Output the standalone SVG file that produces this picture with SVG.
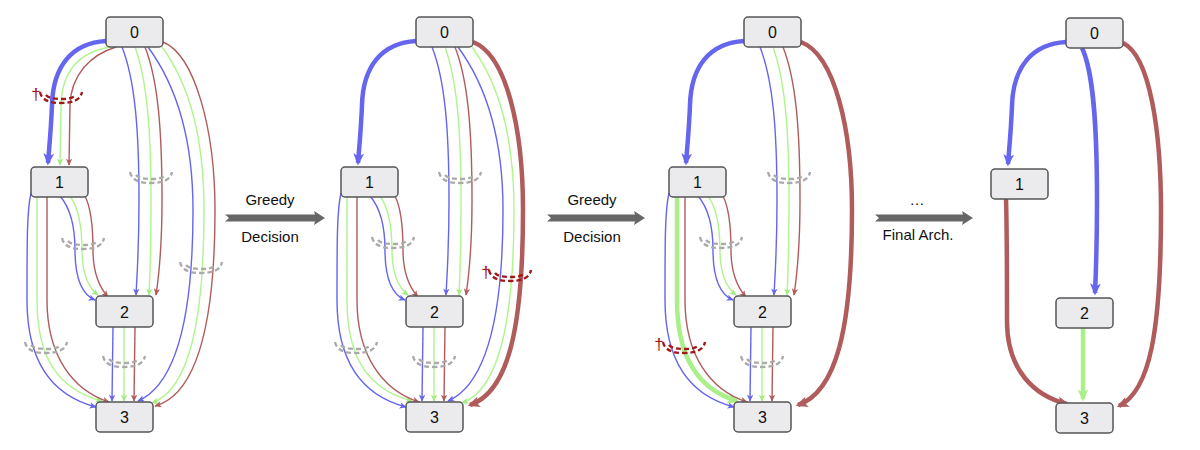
<svg xmlns="http://www.w3.org/2000/svg" xmlns:xlink="http://www.w3.org/1999/xlink" width="1200" height="450" viewBox="0 0 1200 450">
<style>
.node rect{fill:#ebebed;stroke:#555;stroke-width:1.5}
.node text{font-family:"Liberation Sans",Arial,sans-serif;font-size:16px;fill:#111;text-anchor:middle}
.e{fill:none;stroke-width:1.4}
.tk{stroke-width:4.5}
.b{stroke:#6565ee}
.g{stroke:#b0f48e}
.r{stroke:#b05c5c}
.gT{stroke:#aaf088}
.cut{fill:none;stroke:#aaaaaa;stroke-width:2.3;stroke-dasharray:5 3}
.cutR{fill:none;stroke:#a01818;stroke-width:2.3;stroke-dasharray:5 3}
.dag{font-family:"Liberation Sans",Arial,sans-serif;font-size:17px;fill:#a01818;text-anchor:middle}
.lbl{font-family:"Liberation Sans",Arial,sans-serif;font-size:15px;fill:#111;text-anchor:middle}
.big{fill:#666}
</style>
<defs>
<marker id="mb" viewBox="0 0 10 10" refX="9" refY="5" markerWidth="8" markerHeight="7" markerUnits="userSpaceOnUse" orient="auto"><path d="M0,0.5 L10,5 L0,9.5 L2.5,5 Z" fill="#6565ee"/></marker>
<marker id="mg" viewBox="0 0 10 10" refX="9" refY="5" markerWidth="8" markerHeight="7" markerUnits="userSpaceOnUse" orient="auto"><path d="M0,0.5 L10,5 L0,9.5 L2.5,5 Z" fill="#a0ec7c"/></marker>
<marker id="mr" viewBox="0 0 10 10" refX="9" refY="5" markerWidth="8" markerHeight="7" markerUnits="userSpaceOnUse" orient="auto"><path d="M0,0.5 L10,5 L0,9.5 L2.5,5 Z" fill="#b05c5c"/></marker>
<marker id="MB" viewBox="0 0 10 10" refX="8" refY="5" markerWidth="13" markerHeight="12" markerUnits="userSpaceOnUse" orient="auto"><path d="M0,0.5 L10,5 L0,9.5 L2.5,5 Z" fill="#6565ee"/></marker>
<marker id="MG" viewBox="0 0 10 10" refX="8" refY="5" markerWidth="13" markerHeight="12" markerUnits="userSpaceOnUse" orient="auto"><path d="M0,0.5 L10,5 L0,9.5 L2.5,5 Z" fill="#aaf088"/></marker>
<marker id="MR" viewBox="0 0 10 10" refX="8" refY="5" markerWidth="13" markerHeight="12" markerUnits="userSpaceOnUse" orient="auto"><path d="M0,0.5 L10,5 L0,9.5 L2.5,5 Z" fill="#b05c5c"/></marker>
<g id="cutshape">
<path d="M-21,-6 Q-19,5 0,5 Q19,5 21,-6"/>
<path d="M-15,-3 Q-12,1 0,1 Q12,1 15,-3"/>
</g>
</defs>
<rect width="1200" height="450" fill="#fff"/>

<g id="transitions">
<polygon class="big" points="225,214.5 315,214.5 314,211 325,218 314,225 315,221.5 225,221.5 229,218"/>
<text class="lbl" x="270" y="205">Greedy</text>
<text class="lbl" x="270" y="242">Decision</text>
<polygon class="big" points="547,214.5 635,214.5 634,211 645,218 634,225 635,221.5 547,221.5 551,218"/>
<text class="lbl" x="592" y="205">Greedy</text>
<text class="lbl" x="592" y="242">Decision</text>
<polygon class="big" points="875,214.5 963,214.5 962,211 973,218 962,225 963,221.5 875,221.5 879,218"/>
<text class="lbl" x="917" y="205">…</text>
<text class="lbl" x="918" y="240">Final Arch.</text>
</g>

<g id="panel1">
<g id="p1-connectors">
<path class="e b" d="M122,47 C135,80 139,130 139,200 C139,250 137,275 136,295" marker-end="url(#mb)"/>
<path class="e g" d="M135,47 C147,80 151,130 151,200 C151,250 150,275 149,295" marker-end="url(#mg)"/>
<path class="e r" d="M145,47 C158,80 162,130 162,200 C162,250 159,275 156,295" marker-end="url(#mr)"/>
<path class="e b" d="M148,47 C176,85 193,140 193,210 C193,320 175,385 138,401" marker-end="url(#mb)"/>
<path class="e g" d="M162,47 C190,85 204,140 204,210 C204,325 188,390 152,403" marker-end="url(#mg)"/>
<path class="e r" d="M163,42 C195,55 215,130 215,210 C215,330 195,395 155,406" marker-end="url(#mr)"/>
<path class="e g" d="M110,47 C80,52 62,70 61,105 L60,165" marker-end="url(#mg)"/>
<path class="e r" d="M116,47 C90,55 71,75 70,105 L69,165" marker-end="url(#mr)"/>
<path class="e b tk" d="M106,41 C72,43 53,66 52,105 C51,130 49,150 48,163" marker-end="url(#MB)"/>
<path class="e b" d="M60,196 C72,210 75,230 75,250 C75,280 83,295 95,300" marker-end="url(#mb)"/>
<path class="e g" d="M70,196 C80,210 82,230 82,250 C82,275 89,288 98,295" marker-end="url(#mg)"/>
<path class="e r" d="M85,196 C92,210 93,230 93,250 C93,275 100,288 108,297" marker-end="url(#mr)"/>
<path class="e b" d="M31,193 C27,210 27,240 27,300 C27,360 50,395 96,407" marker-end="url(#mb)"/>
<path class="e g" d="M37,196 L37,300 C37,360 60,390 102,401" marker-end="url(#mg)"/>
<path class="e r" d="M47,196 L47,300 C47,355 72,390 109,402" marker-end="url(#mr)"/>
<path class="e b" d="M113,327 L112,401" marker-end="url(#mb)"/>
<path class="e g" d="M124,327 L124,401" marker-end="url(#mg)"/>
<path class="e r" d="M135,327 L134,401" marker-end="url(#mr)"/>
</g>
<g id="p1-cuts">
<use xlink:href="#cutshape" class="cutR" x="61" y="98"/>
<text class="dag" x="36" y="100">†</text>
<use xlink:href="#cutshape" class="cut" x="151" y="178"/>
<use xlink:href="#cutshape" class="cut" x="83" y="244"/>
<use xlink:href="#cutshape" class="cut" x="201" y="268"/>
<use xlink:href="#cutshape" class="cut" x="46" y="348"/>
<use xlink:href="#cutshape" class="cut" x="124" y="362"/>
</g>
<g id="p1-n0" class="node"><rect x="106" y="17" width="57" height="30" rx="4"/><text x="134.5" y="38">0</text></g>
<g id="p1-n1" class="node"><rect x="31" y="167" width="57" height="30" rx="4"/><text x="59.5" y="188">1</text></g>
<g id="p1-n2" class="node"><rect x="96" y="296" width="57" height="31" rx="4"/><text x="124.5" y="317.5">2</text></g>
<g id="p1-n3" class="node"><rect x="96" y="402" width="57" height="30" rx="4"/><text x="124.5" y="423">3</text></g>
</g>

<g id="panel2" transform="translate(310,0)">
<g id="p2-connectors">
<path class="e b" d="M122,47 C135,80 139,130 139,200 C139,250 137,275 136,295" marker-end="url(#mb)"/>
<path class="e g" d="M135,47 C147,80 151,130 151,200 C151,250 150,275 149,295" marker-end="url(#mg)"/>
<path class="e r" d="M145,47 C158,80 162,130 162,200 C162,250 159,275 156,295" marker-end="url(#mr)"/>
<path class="e b" d="M148,47 C176,85 193,140 193,210 C193,320 175,385 138,401" marker-end="url(#mb)"/>
<path class="e g" d="M162,47 C190,85 204,140 204,210 C204,325 188,390 152,403" marker-end="url(#mg)"/>
<path class="e r tk" d="M163,42 C197,55 213,130 213,210 C213,330 198,392 160,405" marker-end="url(#MR)"/>
<path class="e b tk" d="M106,41 C72,43 53,66 52,105 C51,130 49,150 48,163" marker-end="url(#MB)"/>
<path class="e b" d="M60,196 C72,210 75,230 75,250 C75,280 83,295 95,300" marker-end="url(#mb)"/>
<path class="e g" d="M70,196 C80,210 82,230 82,250 C82,275 89,288 98,295" marker-end="url(#mg)"/>
<path class="e r" d="M85,196 C92,210 93,230 93,250 C93,275 100,288 108,297" marker-end="url(#mr)"/>
<path class="e b" d="M31,193 C27,210 27,240 27,300 C27,360 50,395 96,407" marker-end="url(#mb)"/>
<path class="e g" d="M37,196 L37,300 C37,360 60,390 102,401" marker-end="url(#mg)"/>
<path class="e r" d="M47,196 L47,300 C47,355 72,390 109,402" marker-end="url(#mr)"/>
<path class="e b" d="M113,327 L112,401" marker-end="url(#mb)"/>
<path class="e g" d="M124,327 L124,401" marker-end="url(#mg)"/>
<path class="e r" d="M135,327 L134,401" marker-end="url(#mr)"/>
</g>
<g id="p2-cuts">
<use xlink:href="#cutshape" class="cut" x="150" y="178"/>
<use xlink:href="#cutshape" class="cut" x="83" y="243"/>
<use xlink:href="#cutshape" class="cutR" x="200" y="276"/>
<text class="dag" x="176" y="278">†</text>
<use xlink:href="#cutshape" class="cut" x="46" y="348"/>
<use xlink:href="#cutshape" class="cut" x="124" y="362"/>
</g>
<g id="p2-n0" class="node"><rect x="106" y="17" width="57" height="30" rx="4"/><text x="134.5" y="38">0</text></g>
<g id="p2-n1" class="node"><rect x="31" y="167" width="57" height="30" rx="4"/><text x="59.5" y="188">1</text></g>
<g id="p2-n2" class="node"><rect x="96" y="296" width="57" height="31" rx="4"/><text x="124.5" y="317.5">2</text></g>
<g id="p2-n3" class="node"><rect x="96" y="402" width="57" height="30" rx="4"/><text x="124.5" y="423">3</text></g>
</g>

<g id="panel3" transform="translate(638,0)">
<g id="p3-connectors">
<path class="e b" d="M122,47 C135,80 139,130 139,200 C139,250 137,275 136,295" marker-end="url(#mb)"/>
<path class="e g" d="M135,47 C147,80 151,130 151,200 C151,250 150,275 149,295" marker-end="url(#mg)"/>
<path class="e r" d="M145,47 C158,80 162,130 162,200 C162,250 159,275 156,295" marker-end="url(#mr)"/>
<path class="e r tk" d="M163,42 C197,55 214,130 214,210 C214,330 198,392 160,405" marker-end="url(#MR)"/>
<path class="e b tk" d="M106,41 C72,43 53,66 52,105 C51,130 49,150 48,163" marker-end="url(#MB)"/>
<path class="e b" d="M60,196 C72,210 75,230 75,250 C75,280 83,295 95,300" marker-end="url(#mb)"/>
<path class="e g" d="M70,196 C80,210 82,230 82,250 C82,275 89,288 98,295" marker-end="url(#mg)"/>
<path class="e r" d="M85,196 C92,210 93,230 93,250 C93,275 100,288 108,297" marker-end="url(#mr)"/>
<path class="e b" d="M31,193 C27,210 27,240 27,300 C27,360 50,395 96,407" marker-end="url(#mb)"/>
<path class="e gT tk" d="M39,196 L39,300 C39,360 62,390 99,401" marker-end="url(#MG)"/>
<path class="e r" d="M47,196 L47,300 C47,355 72,390 109,402" marker-end="url(#mr)"/>
<path class="e b" d="M113,327 L112,401" marker-end="url(#mb)"/>
<path class="e g" d="M124,327 L124,401" marker-end="url(#mg)"/>
<path class="e r" d="M135,327 L134,401" marker-end="url(#mr)"/>
</g>
<g id="p3-cuts">
<use xlink:href="#cutshape" class="cut" x="151" y="178"/>
<use xlink:href="#cutshape" class="cut" x="83" y="243"/>
<use xlink:href="#cutshape" class="cutR" x="46" y="348"/>
<text class="dag" x="21" y="350">†</text>
<use xlink:href="#cutshape" class="cut" x="124" y="362"/>
</g>
<g id="p3-n0" class="node"><rect x="106" y="17" width="57" height="30" rx="4"/><text x="134.5" y="38">0</text></g>
<g id="p3-n1" class="node"><rect x="31" y="167" width="57" height="30" rx="4"/><text x="59.5" y="188">1</text></g>
<g id="p3-n2" class="node"><rect x="96" y="296" width="57" height="31" rx="4"/><text x="124.5" y="317.5">2</text></g>
<g id="p3-n3" class="node"><rect x="96" y="402" width="57" height="30" rx="4"/><text x="124.5" y="423">3</text></g>
</g>

<g id="panel4" transform="translate(960,1)">
<g id="p4-connectors">
<path class="e b tk" d="M106,41 C72,43 53,66 52,105 C51,130 49,150 48,163" marker-end="url(#MB)"/>
<path class="e b tk" d="M122,47 C133,70 137,120 137,200 C137,240 136,270 135,292" marker-end="url(#MB)"/>
<path class="e r tk" d="M163,42 C190,55 201,130 201,210 C201,330 190,390 159,405" marker-end="url(#MR)"/>
<path class="e r tk" d="M46,198 C47,230 47,280 47,320 C47,370 75,395 107,403" marker-end="url(#MR)"/>
<path class="e gT tk" d="M123,327 L123,398" marker-end="url(#MG)"/>
</g>
<g id="p4-n0" class="node"><rect x="106" y="17" width="57" height="30" rx="4"/><text x="134.5" y="38">0</text></g>
<g id="p4-n1" class="node"><rect x="31" y="168" width="57" height="30" rx="4"/><text x="59.5" y="189">1</text></g>
<g id="p4-n2" class="node"><rect x="96" y="297" width="57" height="30" rx="4"/><text x="124.5" y="318">2</text></g>
<g id="p4-n3" class="node"><rect x="96" y="402" width="57" height="30" rx="4"/><text x="124.5" y="423">3</text></g>
</g>
</svg>
